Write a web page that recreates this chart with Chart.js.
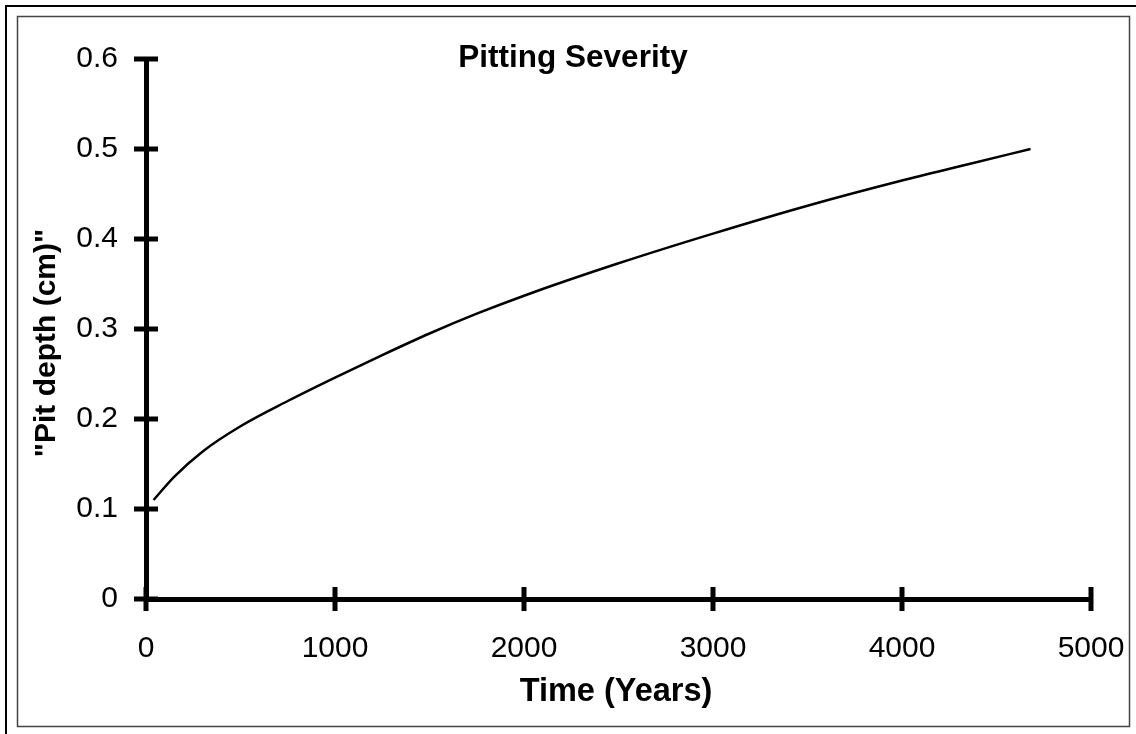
<!DOCTYPE html>
<html>
<head>
<meta charset="utf-8">
<script src="https://cdn.jsdelivr.net/npm/chart.js@4.4.1/dist/chart.umd.min.js"></script>
<style>
  html, body { margin: 0; padding: 0; background: #fff; }
  #wrap { width: 1136px; height: 734px; position: relative; }
</style>
</head>
<body>
<div id="wrap"><canvas id="c" width="1136" height="734"></canvas></div>
<script>
// Pit depth growth over time
const years = [40, 150, 300, 500, 750, 1000, 1250, 1500, 1750, 2000, 2500, 3000, 3500, 4000, 4350, 4680];
const pitDepth = [0.110, 0.136, 0.164, 0.192, 0.220, 0.246, 0.271, 0.295, 0.317, 0.337, 0.373, 0.406, 0.437, 0.465, 0.483, 0.500];
const xTicks = [0, 1000, 2000, 3000, 4000, 5000];
const yTicks = [0, 0.1, 0.2, 0.3, 0.4, 0.5, 0.6];

const chartTitle = 'Pitting Severity';
const xTitle = 'Time (Years)';
const yTitle = '"Pit depth (cm)"';

const FONT = '"Liberation Sans", Arial, Helvetica, sans-serif';
const AXIS_W = 5;
const TICK_HALF = 12;

// Frame, crossing tick marks and titles
const decorations = {
  id: 'decorations',
  beforeDraw(chart) {
    const ctx = chart.ctx;
    ctx.save();
    ctx.fillStyle = '#fff';
    ctx.fillRect(0, 0, chart.width, chart.height);
    // outer frame (top and left)
    ctx.strokeStyle = '#000';
    ctx.lineWidth = 2;
    ctx.beginPath();
    ctx.moveTo(6, chart.height);
    ctx.lineTo(6, 6);
    ctx.lineTo(chart.width, 6);
    ctx.stroke();
    // inner frame
    ctx.strokeStyle = '#444';
    ctx.lineWidth = 1.5;
    ctx.strokeRect(17.5, 16.5, 1112, 710);
    ctx.restore();
  },
  afterDraw(chart) {
    const ctx = chart.ctx;
    const xs = chart.scales.x, ys = chart.scales.y;
    const a = chart.chartArea;
    ctx.save();
    ctx.strokeStyle = '#000';
    ctx.lineWidth = AXIS_W;
    ctx.lineCap = 'butt';
    ctx.beginPath();
    xTicks.forEach(v => {
      const px = Math.round(xs.getPixelForValue(v));
      ctx.moveTo(px, a.bottom - TICK_HALF);
      ctx.lineTo(px, a.bottom + TICK_HALF);
    });
    yTicks.forEach(v => {
      const py = Math.round(ys.getPixelForValue(v));
      ctx.moveTo(a.left - TICK_HALF, py);
      ctx.lineTo(a.left + TICK_HALF, py);
    });
    ctx.stroke();

    ctx.fillStyle = '#000';
    ctx.textAlign = 'center';
    ctx.textBaseline = 'alphabetic';
    ctx.font = 'bold 31.5px ' + FONT;
    ctx.fillText(chartTitle, 573, 67);
    ctx.font = 'bold 32.5px ' + FONT;
    ctx.fillText(xTitle, 616, 701);
    ctx.font = 'bold 30px ' + FONT;
    ctx.translate(55, 343);
    ctx.rotate(-Math.PI / 2);
    ctx.fillText(yTitle, 0, 0);
    ctx.restore();
  }
};

new Chart(document.getElementById('c'), {
  type: 'line',
  data: {
    datasets: [{
      data: years.map((t, i) => ({ x: t, y: pitDepth[i] })),
      borderColor: '#000',
      borderWidth: 2.5,
      pointRadius: 0,
      fill: false,
      cubicInterpolationMode: 'monotone'
    }]
  },
  options: {
    responsive: false,
    animation: false,
    devicePixelRatio: 1,
    layout: { padding: { left: 0, right: 45, top: 59, bottom: 0 } },
    plugins: { legend: { display: false }, tooltip: { enabled: false }, title: { display: false } },
    scales: {
      x: {
        type: 'linear',
        min: 0, max: 5000,
        afterBuildTicks(s) { s.ticks = xTicks.map(v => ({ value: v })); },
        afterFit(s) { s.height = 135; s.paddingLeft = 0; s.paddingRight = 0; },
        grid: { display: true, drawOnChartArea: false, drawTicks: false, color: 'rgba(0,0,0,0)' },
        border: { display: true, color: '#000', width: AXIS_W },
        ticks: { color: '#000', font: { family: FONT, size: 30 }, padding: 32, maxRotation: 0, autoSkip: false,
                 callback: v => String(v) }
      },
      y: {
        type: 'linear',
        min: 0, max: 0.6,
        afterBuildTicks(s) { s.ticks = yTicks.map(v => ({ value: v })); },
        afterFit(s) { s.width = 146; s.paddingTop = 0; s.paddingBottom = 0; },
        grid: { display: true, drawOnChartArea: false, drawTicks: false, color: 'rgba(0,0,0,0)' },
        border: { display: true, color: '#000', width: AXIS_W },
        ticks: { color: '#000', font: { family: FONT, size: 30 }, padding: 28, autoSkip: false,
                 callback: v => String(Math.round(v * 10) / 10) }
      }
    }
  },
  plugins: [decorations]
});
</script>
</body>
</html>
